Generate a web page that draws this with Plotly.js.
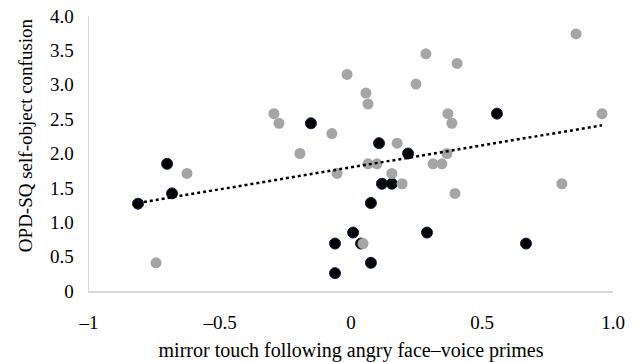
<!DOCTYPE html>
<html>
<head>
<meta charset="utf-8">
<script src="https://cdn.plot.ly/plotly-3.0.1.min.js"></script>
<style>html,body{margin:0;padding:0;background:#fff;}#chart{width:638px;height:362px;}</style>
</head>
<body>
<div id="chart"></div>
<script>
// Grey series
const grayX = [-0.744, -0.626, -0.294, -0.275, -0.195, -0.073, -0.053, -0.015, 0.057, 0.065, 0.065, 0.099, 0.046, 0.176, 0.156, 0.195, 0.248, 0.286, 0.313, 0.347, 0.366, 0.370, 0.385, 0.405, 0.397, 0.805, 0.859, 0.958];
const grayY = [0.41, 1.71, 2.58, 2.44, 2.00, 2.29, 1.71, 3.15, 2.88, 2.72, 1.85, 1.85, 0.69, 2.15, 1.71, 1.56, 3.01, 3.45, 1.85, 1.85, 2.00, 2.58, 2.44, 3.31, 1.42, 1.56, 3.74, 2.58];
// Black series
const blackX = [-0.813, -0.702, -0.683, -0.153, -0.061, -0.061, 0.008, 0.038, 0.076, 0.076, 0.107, 0.118, 0.156, 0.218, 0.290, 0.557, 0.668];
const blackY = [1.27, 1.85, 1.42, 2.44, 0.69, 0.26, 0.85, 0.69, 1.28, 0.41, 2.15, 1.56, 1.56, 2.00, 0.85, 2.58, 0.69];
// Trend line endpoints
const trendX = [-0.813, 0.958];
const trendY = [1.28, 2.41];
// Tick labels
const xTickVals = [-1, -0.5, 0, 0.5, 1];
const xTickText = ['\u20131', '\u20130.5', '0', '0.5', '1.0'];
const yTickVals = [0, 0.5, 1, 1.5, 2, 2.5, 3, 3.5, 4];
const yTickText = ['0', '0.5', '1.0', '1.5', '2.0', '2.5', '3.0', '3.5', '4.0'];
const xTitle = 'mirror touch following angry face\u2013voice primes';
const yTitle = 'OPD-SQ self-object confusion';

const traces = [
  {x: blackX, y: blackY, type: 'scatter', mode: 'markers',
   marker: {size: 11, color: '#000000', line: {color: '#10204a', width: 1}}, hoverinfo: 'none'},
  {x: grayX, y: grayY, type: 'scatter', mode: 'markers',
   marker: {size: 11, color: '#a5a5a5', line: {width: 0}}, hoverinfo: 'none'},
  {x: trendX, y: trendY, type: 'scatter', mode: 'lines',
   line: {color: '#000000', width: 2.5, dash: 'dot'}, hoverinfo: 'none'}
];

const layout = {
  width: 638, height: 362,
  margin: {l: 89, r: 25, t: 16, b: 71},
  paper_bgcolor: '#ffffff', plot_bgcolor: '#ffffff',
  showlegend: false,
  font: {family: 'Liberation Serif, Times New Roman, serif', color: '#000000', size: 19},
  xaxis: {
    range: [-1, 1], tickvals: xTickVals, ticktext: xTickText,
    showgrid: false, zeroline: false, showline: true, linecolor: '#d9d9d9', linewidth: 1.5,
    ticks: 'outside', ticklen: 14, tickcolor: 'rgba(0,0,0,0)', tickfont: {size: 19},
    title: {text: xTitle, font: {size: 20}, standoff: 10}
  },
  yaxis: {
    range: [0, 4], tickvals: yTickVals, ticktext: yTickText,
    showgrid: false, zeroline: false, showline: true, linecolor: '#d9d9d9', linewidth: 1.5,
    ticks: 'outside', ticklen: 10, tickcolor: 'rgba(0,0,0,0)', tickfont: {size: 19}
  },
  annotations: [{
    text: yTitle, textangle: -90, showarrow: false,
    xref: 'paper', yref: 'paper', x: -0.122, y: 0.567,
    xanchor: 'center', yanchor: 'middle',
    font: {size: 19}
  }]
};

Plotly.newPlot('chart', traces, layout, {staticPlot: true, displayModeBar: false});
</script>
</body>
</html>
